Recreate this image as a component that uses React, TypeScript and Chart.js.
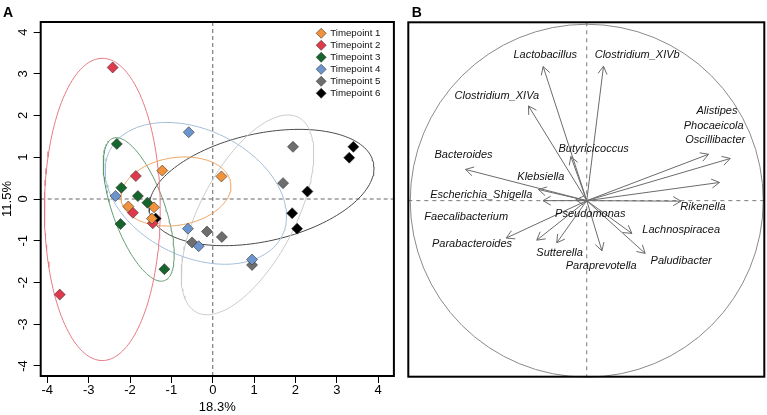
import React, { useEffect, useRef } from "react";
import { Chart, registerables } from "chart.js";
Chart.register(...registerables);

const FONT = '"Liberation Sans", Arial, Helvetica, sans-serif';

// ---------- Panel A data ----------
const timepoints = ["Timepoint 1", "Timepoint 2", "Timepoint 3", "Timepoint 4", "Timepoint 5", "Timepoint 6"];
const tp1: [number, number][] = [[-1.22, 0.68], [0.21, 0.54], [-2.04, -0.18], [-1.42, -0.2], [-1.47, -0.47]];
const tp2: [number, number][] = [[-2.42, 3.15], [-1.86, 0.55], [-1.93, -0.33], [-1.45, -0.58], [-3.7, -2.29]];
const tp3: [number, number][] = [[-2.32, 1.32], [-2.21, 0.27], [-1.81, 0.07], [-1.58, -0.09], [-2.23, -0.6], [-1.17, -1.68]];
const tp4: [number, number][] = [[-0.58, 1.6], [-2.35, 0.07], [-0.6, -0.71], [-0.34, -1.13], [0.95, -1.45]];
const tp5: [number, number][] = [[1.94, 1.25], [1.7, 0.38], [-0.14, -0.78], [0.22, -0.91], [-0.5, -1.04], [0.95, -1.58]];
const tp6: [number, number][] = [[3.4, 1.25], [3.3, 0.99], [2.29, 0.18], [1.92, -0.34], [2.04, -0.71], [-1.38, -0.47]];
const tpPoints = [tp1, tp2, tp3, tp4, tp5, tp6];

const markerColors = ["#F2923A", "#E0394B", "#15652C", "#6C95CF", "#6E6E6E", "#000000"];
const ellipseColors = ["#EDA461", "#E57A84", "#5F9A72", "#A3BED8", "#CACACA", "#4A4A4A"];

// ellipse parameters (centre, semi-axes, rotation in degrees)
const ellipseCx = [-0.89, -2.67, -1.79, -0.41, 0.84, 1.18];
const ellipseCy = [0.18, -0.25, -0.25, 0.135, -0.38, 0.275];
const ellipseA = [1.34, 3.62, 1.815, 2.32, 2.64, 2.77];
const ellipseB = [0.81, 1.4, 0.63, 1.52, 1.15, 1.29];
const ellipseAngle = [9, 90, 110, -25.6, 62, 12.4];

const axisTicksA = [-4, -3, -2, -1, 0, 1, 2, 3, 4];
const xTitleA = "18.3%";
const yTitleA = "11.5%";

// ---------- Panel B data ----------
const taxa = [
  "Lactobacillus", "Clostridium_XIVb", "Clostridium_XIVa", "Alistipes", "Phocaeicola", "Oscillibacter",
  "Butyricicoccus", "Bacteroides", "Klebsiella", "Escherichia_Shigella", "Rikenella", "Faecalibacterium",
  "Pseudomonas", "Lachnospiracea", "Parabacteroides", "Sutterella", "Paludibacter", "Paraprevotella",
];
const arrowX = [-0.247, 0.095, -0.33, 0.813, 0.69, 0.752, -0.09, -0.687, -0.273, -0.248, 0.534, -0.283, -0.062, 0.256, -0.456, -0.17, 0.331, 0.086];
const arrowY = [0.76, 0.762, 0.537, 0.239, 0.263, 0.103, 0.25, 0.177, 0.063, 0.0, -0.003, -0.224, 0.005, -0.186, -0.212, -0.239, -0.299, -0.284];
const labelX = [-0.235, 0.286, -0.509, 0.738, 0.719, 0.728, 0.039, -0.698, -0.26, -0.598, 0.658, -0.683, 0.02, 0.535, -0.65, -0.154, 0.535, 0.082];
const labelY = [0.824, 0.824, 0.594, 0.507, 0.422, 0.343, 0.292, 0.258, 0.135, 0.031, -0.035, -0.092, -0.076, -0.167, -0.246, -0.296, -0.341, -0.371];

function ellipsePoints(cx: number, cy: number, a: number, b: number, angDeg: number) {
  const t = (angDeg * Math.PI) / 180;
  const pts: { x: number; y: number }[] = [];
  const n = 160;
  for (let i = 0; i <= n; i++) {
    const u = (2 * Math.PI * i) / n;
    const ex = a * Math.cos(u);
    const ey = b * Math.sin(u);
    pts.push({ x: cx + ex * Math.cos(t) - ey * Math.sin(t), y: cy + ex * Math.sin(t) + ey * Math.cos(t) });
  }
  return pts;
}

const panelAPlugin = {
  id: "panelA",
  beforeDatasetsDraw(chart: any) {
    const { ctx, chartArea: ca, scales } = chart;
    const x0 = scales.x.getPixelForValue(0);
    const y0 = scales.y.getPixelForValue(0);
    ctx.save();
    ctx.strokeStyle = "#666";
    ctx.lineWidth = 1;
    ctx.setLineDash([4, 3]);
    ctx.beginPath();
    ctx.moveTo(x0, ca.top);
    ctx.lineTo(x0, ca.bottom);
    ctx.moveTo(ca.left, y0);
    ctx.lineTo(ca.right, y0);
    ctx.stroke();
    ctx.restore();
  },
  afterDraw(chart: any) {
    const { ctx, chartArea: ca } = chart;
    ctx.save();
    ctx.strokeStyle = "#000";
    ctx.lineWidth = 2;
    ctx.strokeRect(ca.left, ca.top, ca.right - ca.left, ca.bottom - ca.top);
    // legend
    const lx = ca.right - 72.7;
    const ly = ca.top + 11.3;
    timepoints.forEach((name, i) => {
      const y = ly + 12 * i;
      ctx.beginPath();
      ctx.moveTo(lx - 5, y);
      ctx.lineTo(lx, y - 5);
      ctx.lineTo(lx + 5, y);
      ctx.lineTo(lx, y + 5);
      ctx.closePath();
      ctx.fillStyle = markerColors[i];
      ctx.fill();
      ctx.strokeStyle = "#333";
      ctx.lineWidth = 0.6;
      ctx.stroke();
      ctx.fillStyle = "#111";
      ctx.font = `9.7px ${FONT}`;
      ctx.textAlign = "left";
      ctx.textBaseline = "middle";
      ctx.fillText(name, lx + 9, y + 0.5);
    });
    ctx.fillStyle = "#000";
    ctx.font = `bold 14px ${FONT}`;
    ctx.textAlign = "left";
    ctx.textBaseline = "alphabetic";
    ctx.fillText("A", 3, 16.7);
    ctx.restore();
  },
};

const panelBPlugin = {
  id: "panelB",
  beforeDatasetsDraw(chart: any) {
    const { ctx, chartArea: ca, scales } = chart;
    const x0 = scales.x.getPixelForValue(0);
    const y0 = scales.y.getPixelForValue(0);
    const rx = scales.x.getPixelForValue(1) - x0;
    const ry = y0 - scales.y.getPixelForValue(1);
    ctx.save();
    ctx.strokeStyle = "#8a8a8a";
    ctx.lineWidth = 1;
    ctx.beginPath();
    ctx.ellipse(x0, y0, rx, ry, 0, 0, Math.PI * 2);
    ctx.stroke();
    ctx.strokeStyle = "#777";
    ctx.setLineDash([4, 4]);
    ctx.beginPath();
    ctx.moveTo(x0, ca.top);
    ctx.lineTo(x0, ca.bottom);
    ctx.moveTo(ca.left, y0);
    ctx.lineTo(ca.right, y0);
    ctx.stroke();
    ctx.restore();
  },
  afterDatasetsDraw(chart: any) {
    const { ctx, chartArea: ca, scales } = chart;
    const ox = scales.x.getPixelForValue(0);
    const oy = scales.y.getPixelForValue(0);
    ctx.save();
    ctx.strokeStyle = "#6b6b6b";
    ctx.lineWidth = 1;
    taxa.forEach((_, i) => {
      const tx = scales.x.getPixelForValue(arrowX[i]);
      const ty = scales.y.getPixelForValue(arrowY[i]);
      const ang = Math.atan2(ty - oy, tx - ox);
      const L = 9;
      const w = Math.PI / 6;
      ctx.beginPath();
      ctx.moveTo(tx - L * Math.cos(ang - w), ty - L * Math.sin(ang - w));
      ctx.lineTo(tx, ty);
      ctx.lineTo(tx - L * Math.cos(ang + w), ty - L * Math.sin(ang + w));
      ctx.stroke();
    });
    ctx.fillStyle = "#111";
    ctx.font = `italic 11px ${FONT}`;
    ctx.textAlign = "center";
    ctx.textBaseline = "middle";
    taxa.forEach((name, i) => {
      ctx.fillText(name, scales.x.getPixelForValue(labelX[i]), scales.y.getPixelForValue(labelY[i]));
    });
    ctx.strokeStyle = "#000";
    ctx.lineWidth = 2;
    ctx.strokeRect(ca.left, ca.top, ca.right - ca.left, ca.bottom - ca.top);
    ctx.fillStyle = "#000";
    ctx.font = `bold 14px ${FONT}`;
    ctx.textAlign = "left";
    ctx.textBaseline = "alphabetic";
    ctx.fillText("B", 11.7, 16.7);
    ctx.restore();
  },
};

export default function App() {
  const refA = useRef<HTMLCanvasElement>(null);
  const refB = useRef<HTMLCanvasElement>(null);

  useEffect(() => {
    const ellipseSets = ellipseCx.map((cx, i) => ({
      label: "ellipse" + i,
      data: ellipsePoints(cx, ellipseCy[i], ellipseA[i], ellipseB[i], ellipseAngle[i]),
      showLine: true,
      borderColor: ellipseColors[i],
      borderWidth: 1,
      pointRadius: 0,
      tension: 0,
      fill: false,
      order: 2,
    }));
    const pointSets = tpPoints.map((pts, i) => ({
      label: timepoints[i],
      data: pts.map(([x, y]) => ({ x, y })),
      pointStyle: "rectRot",
      pointRadius: 5.5,
      backgroundColor: markerColors[i],
      borderColor: "#333",
      borderWidth: 0.6,
      showLine: false,
      order: 0,
    }));
    const tickFont = { family: FONT, size: 13 };
    const chartA = new Chart(refA.current!, {
      type: "scatter",
      data: { datasets: [...pointSets, ...ellipseSets] as any },
      options: {
        animation: false,
        responsive: false,
        devicePixelRatio: 1,
        events: [],
        layout: { padding: { left: 0, right: 3, top: 22, bottom: 0 } },
        plugins: { legend: { display: false }, tooltip: { enabled: false } },
        scales: {
          x: {
            type: "linear",
            min: -4.16,
            max: 4.38,
            afterBuildTicks: (s: any) => { s.ticks = axisTicksA.map((v) => ({ value: v })); },
            ticks: { font: tickFont, color: "#000", padding: 0, maxRotation: 0, autoSkip: false },
            grid: { display: true, drawOnChartArea: false, drawTicks: true, tickLength: 7, color: "#000", lineWidth: 1 },
            border: { display: false },
            title: { display: true, text: xTitleA, font: tickFont, color: "#000", padding: { top: 0, bottom: 0 } },
            afterFit: (s: any) => { s.height = 39; },
          },
          y: {
            type: "linear",
            min: -4.24,
            max: 4.24,
            afterBuildTicks: (s: any) => { s.ticks = axisTicksA.map((v) => ({ value: v })); },
            ticks: { font: tickFont, color: "#000", padding: 4.5, minRotation: 90, maxRotation: 90, crossAlign: "center", autoSkip: false },
            grid: { display: true, drawOnChartArea: false, drawTicks: true, tickLength: 7, color: "#000", lineWidth: 1 },
            border: { display: false },
            title: { display: true, text: yTitleA, font: tickFont, color: "#000", padding: { top: 0, bottom: 0 } },
            afterFit: (s: any) => { s.width = 40.7; },
          },
        },
      } as any,
      plugins: [panelAPlugin],
    });

    const arrowSets = taxa.map((name, i) => ({
      label: name,
      data: [{ x: 0, y: 0 }, { x: arrowX[i], y: arrowY[i] }],
      showLine: true,
      borderColor: "#6b6b6b",
      borderWidth: 1,
      pointRadius: 0,
      fill: false,
    }));
    const chartB = new Chart(refB.current!, {
      type: "scatter",
      data: { datasets: arrowSets as any },
      options: {
        animation: false,
        responsive: false,
        devicePixelRatio: 1,
        events: [],
        layout: { padding: { left: 8.3, right: 2.7, top: 22.3, bottom: 38.3 } },
        plugins: { legend: { display: false }, tooltip: { enabled: false } },
        scales: {
          x: { type: "linear", min: -1.011, max: 1.006, display: false },
          y: { type: "linear", min: -0.998, max: 1.011, display: false },
        },
      } as any,
      plugins: [panelBPlugin],
    });
    return () => {
      chartA.destroy();
      chartB.destroy();
    };
  }, []);

  return (
    <div style={{ position: "fixed", left: 0, top: 0, width: 767, height: 415, background: "#fff" }}>
      <canvas ref={refA} width={400} height={415} style={{ position: "absolute", left: 0, top: 0 }} />
      <canvas ref={refB} width={367} height={415} style={{ position: "absolute", left: 400, top: 0 }} />
    </div>
  );
}
